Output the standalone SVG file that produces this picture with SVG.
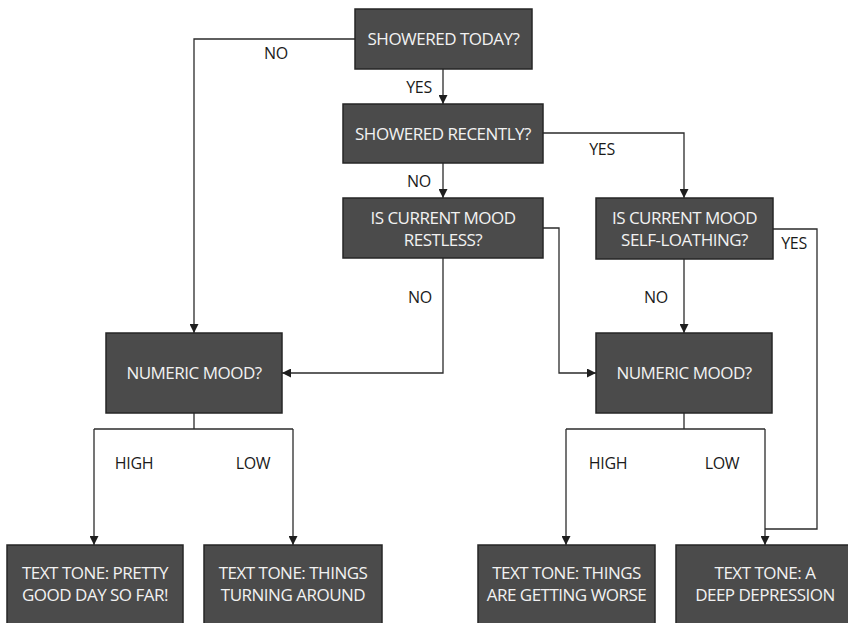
<svg xmlns="http://www.w3.org/2000/svg" width="848" height="623" viewBox="0 0 848 623">
  <defs>
    <marker id="arrow" markerUnits="userSpaceOnUse" markerWidth="9" markerHeight="9" viewBox="0 0 10 10" refX="10" refY="5" orient="auto">
      <path d="M0,0 L10,5 L0,10 z" fill="#1e1e1e"/>
    </marker>
    <style>
      .box { fill: #4b4b4b; stroke: #262626; stroke-width: 1.5; }
      .box-text { font-family: "Open Sans", "Liberation Sans", sans-serif; font-size: 17px; fill: #f2f2f2; text-anchor: middle; letter-spacing: -0.5px; }
      .conn { fill: none; stroke: #2b2b2b; stroke-width: 1.3; }
      .label { font-family: "Open Sans", "Liberation Sans", sans-serif; font-size: 16px; fill: #1a1a1a; text-anchor: middle; letter-spacing: -0.3px; }
    </style>
  </defs>
  <rect width="848" height="623" fill="#ffffff"/>

  <!-- connectors -->
  <g id="connectors">
    <path class="conn" d="M355,39 H194 V333" marker-end="url(#arrow)"/>
    <path class="conn" d="M443,69 V104" marker-end="url(#arrow)"/>
    <path class="conn" d="M543,133 H684 V198" marker-end="url(#arrow)"/>
    <path class="conn" d="M443,163 V198" marker-end="url(#arrow)"/>
    <path class="conn" d="M443,258 V373 H282" marker-end="url(#arrow)"/>
    <path class="conn" d="M543,228 H559 V373 H596" marker-end="url(#arrow)"/>
    <path class="conn" d="M773,229 H817 V529 H765"/>
    <path class="conn" d="M684,259 V333" marker-end="url(#arrow)"/>
    <path class="conn" d="M194,413 V429"/>
    <path class="conn" d="M94,429 H293"/>
    <path class="conn" d="M94,429 V545" marker-end="url(#arrow)"/>
    <path class="conn" d="M293,429 V545" marker-end="url(#arrow)"/>
    <path class="conn" d="M684,413 V429"/>
    <path class="conn" d="M566,429 H765"/>
    <path class="conn" d="M566,429 V545" marker-end="url(#arrow)"/>
    <path class="conn" d="M765,429 V545" marker-end="url(#arrow)"/>

    <text class="label" x="276" y="59">NO</text>
    <text class="label" x="419" y="93">YES</text>
    <text class="label" x="602" y="155">YES</text>
    <text class="label" x="419" y="187">NO</text>
    <text class="label" x="420" y="303">NO</text>
    <text class="label" x="656" y="303">NO</text>
    <text class="label" x="794" y="249">YES</text>
    <text class="label" x="134" y="469">HIGH</text>
    <text class="label" x="253" y="469">LOW</text>
    <text class="label" x="608" y="469">HIGH</text>
    <text class="label" x="722" y="469">LOW</text>
  </g>

  <!-- decision nodes -->
  <g id="showered-today">
    <rect class="box" x="355" y="9" width="177" height="60"/>
    <text class="box-text" x="443.5" y="45">SHOWERED TODAY?</text>
  </g>
  <g id="showered-recently">
    <rect class="box" x="343" y="104" width="200" height="59"/>
    <text class="box-text" x="443" y="139.5">SHOWERED RECENTLY?</text>
  </g>
  <g id="mood-restless">
    <rect class="box" x="343" y="198" width="200" height="60"/>
    <text class="box-text" x="443" y="224">IS CURRENT MOOD</text>
    <text class="box-text" x="443" y="245.5">RESTLESS?</text>
  </g>
  <g id="mood-self-loathing">
    <rect class="box" x="596" y="198" width="177" height="61"/>
    <text class="box-text" x="684.5" y="224">IS CURRENT MOOD</text>
    <text class="box-text" x="684.5" y="245.5">SELF-LOATHING?</text>
  </g>
  <g id="numeric-mood-left">
    <rect class="box" x="106" y="333" width="176" height="80"/>
    <text class="box-text" x="194" y="379">NUMERIC MOOD?</text>
  </g>
  <g id="numeric-mood-right">
    <rect class="box" x="596" y="333" width="176" height="80"/>
    <text class="box-text" x="684" y="379">NUMERIC MOOD?</text>
  </g>

  <!-- outcome nodes -->
  <g id="tone-pretty-good">
    <rect class="box" x="7" y="545" width="176" height="82"/>
    <text class="box-text" x="95" y="579">TEXT TONE: PRETTY</text>
    <text class="box-text" x="95" y="601">GOOD DAY SO FAR!</text>
  </g>
  <g id="tone-turning-around">
    <rect class="box" x="204" y="545" width="178" height="82"/>
    <text class="box-text" x="293" y="579">TEXT TONE: THINGS</text>
    <text class="box-text" x="293" y="601">TURNING AROUND</text>
  </g>
  <g id="tone-getting-worse">
    <rect class="box" x="478" y="545" width="177" height="82"/>
    <text class="box-text" x="566.5" y="579">TEXT TONE: THINGS</text>
    <text class="box-text" x="566.5" y="601">ARE GETTING WORSE</text>
  </g>
  <g id="tone-deep-depression">
    <rect class="box" x="676" y="545" width="176" height="82"/>
    <text class="box-text" x="765" y="579">TEXT TONE: A</text>
    <text class="box-text" x="765" y="601">DEEP DEPRESSION</text>
  </g>
</svg>
